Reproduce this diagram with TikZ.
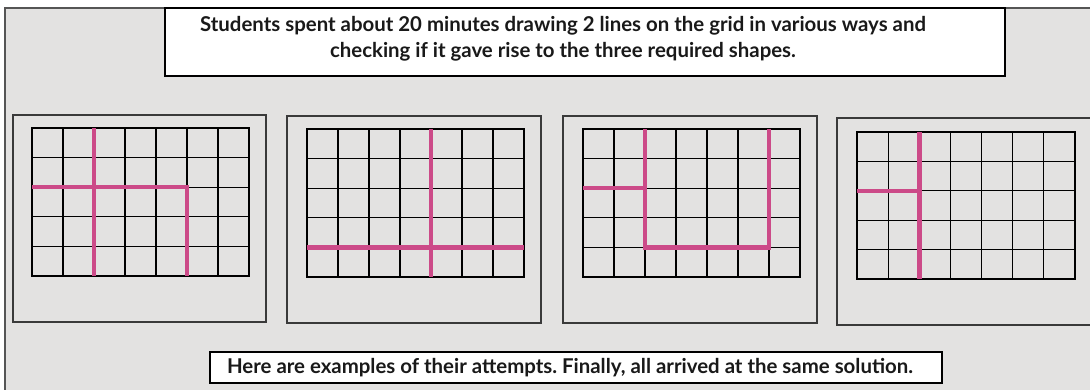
\documentclass[tikz,border=0pt]{standalone}
\usepackage{fontspec}
\setmainfont{Lato}
\frenchspacing
\definecolor{bgc}{HTML}{E3E2E1}
\definecolor{pinkc}{HTML}{CC4A88}
\definecolor{panelc}{HTML}{3A3A3A}
\definecolor{edgec}{HTML}{555555}
\newcommand\gridat[4]{%
  \foreach \i in {0,...,7} \draw[gridline] ({#1+(#3-#1)*\i/7},#2) -- ({#1+(#3-#1)*\i/7},#4);
  \foreach \j in {0,...,5} \draw[gridline] (#1,{#2+(#4-#2)*\j/5}) -- (#3,{#2+(#4-#2)*\j/5});
}
\begin{document}
\begin{tikzpicture}[x=1pt,y=-1pt,
  pinkline/.style={draw=pinkc,line width=4.5pt},
  gridline/.style={draw=black,line width=1.1pt,line cap=rect},
  panel/.style={draw=panelc,line width=1.4pt},
  boxstyle/.style={draw=black,line width=1.4pt,fill=white,inner sep=0pt},
  textstyle/.style={font=\bfseries\fontsize{20.4}{25.5}\selectfont,align=center,inner sep=0pt,text=black!90}]
\useasboundingbox (0,0) rectangle (1090,389);
\fill[bgc] (5,8) rectangle (1095,395);
\draw[edgec,line width=2pt] (5,395) -- (5,8) -- (1095,8);
% top box
\node[boxstyle,minimum width=840pt,minimum height=68pt] (topbox) at (585,42) {};
\node[textstyle] (toptext) at (563,39) {Students spent about 20 minutes drawing 2 lines on the grid in various ways and\\checking if it gave rise to the three required shapes.};
% panels
\draw[panel] (13,115) rectangle (266,322);
\draw[panel] (287,116) rectangle (541,323);
\draw[panel] (563,116) rectangle (817,323);
\draw[panel] (837,118) rectangle (1100,325);
% grids
\gridat{32}{128}{249}{276}
\gridat{307}{129}{524}{277}
\gridat{583}{129}{800}{277}
\gridat{857}{132}{1075}{279}
% pink lines
\draw[pinkline] (94,128) -- (94,276);
\draw[pinkline] (32,187.2) -- (187,187.2) -- (187,276);
\draw[pinkline] (431,129) -- (431,277);
\draw[pinkline] (307,247.4) -- (524,247.4);
\draw[pinkline] (583,188.2) -- (645,188.2);
\draw[pinkline] (645,129) -- (645,247.4) -- (769,247.4) -- (769,129);
\draw[pinkline] (919.3,132) -- (919.3,279);
\draw[pinkline] (857,190.8) -- (919.3,190.8);
% bottom box
\node[boxstyle,minimum width=732pt,minimum height=31pt] (botbox) at (576,367.5) {};
\node[textstyle] (bottext) at (570,367.5) {Here are examples of their attempts. Finally, all arrived at the same solution.};
\end{tikzpicture}
\end{document}
